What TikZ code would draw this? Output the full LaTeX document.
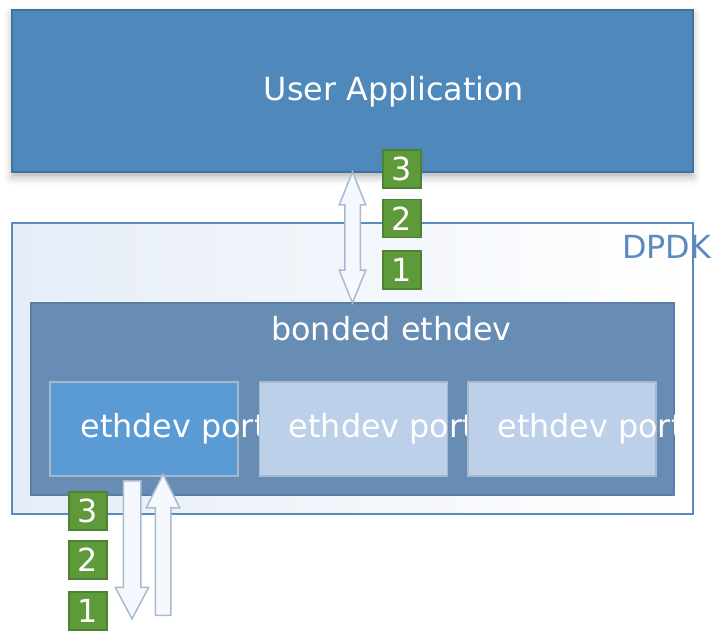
\documentclass[tikz,border=0pt]{standalone}
\usepackage{fontspec}
\setmainfont{DejaVu Sans}
\usetikzlibrary{positioning,calc,shapes.arrows,shadows.blur}
\definecolor{appblue}{HTML}{4F88BB}
\definecolor{appline}{HTML}{41719C}
\definecolor{dpdkline}{HTML}{5A8AC0}
\definecolor{dpdkfill}{HTML}{E6EDF7}
\definecolor{bondfill}{HTML}{678DB5}
\definecolor{bondline}{HTML}{5A7FA6}
\definecolor{portact}{HTML}{5B9BD5}
\definecolor{portfill}{HTML}{BDD0E9}
\definecolor{portline}{HTML}{A9B8CA}
\definecolor{arrowfill}{HTML}{F5F8FC}
\definecolor{arrowline}{HTML}{A9BAD3}
\definecolor{badgefill}{HTML}{5E9A3A}
\definecolor{badgeline}{HTML}{4E8233}
\begin{document}
\begin{tikzpicture}[x=1pt,y=-1pt]
\tikzstyle{txt}= [font=\fontsize{31.8}{38}\selectfont,inner sep=0pt]
\tikzstyle{box}= [rectangle,draw,line width=1.5pt]
\tikzstyle{port}= [box,portline,minimum width=188pt,minimum height=94pt]
\tikzstyle{badge}= [rectangle,draw=badgeline,fill=badgefill,line width=1.5pt,minimum size=38pt,inner sep=0pt,text=white,font=\fontsize{31.8}{38}\selectfont]
\tikzstyle{fat}= [draw=arrowline,fill=arrowfill,line width=1.5pt,inner xsep=0pt,minimum width=0pt]

\useasboundingbox (0,0) rectangle (713,634);

\path
	(352.5, 91) node[box,draw=appline,fill=appblue,minimum width=681pt,minimum height=162pt,blur shadow={shadow xshift=0pt,shadow yshift=-5pt,shadow blur radius=8pt,shadow opacity=30}] (ua) {}
	(352.5,368.5) node[box,draw=dpdkline,left color=dpdkfill,right color=white,minimum width=681pt,minimum height=291pt] (dpdk) {}
	(352.5,399) node[box,draw=bondline,fill=bondfill,minimum width=643pt,minimum height=192pt] (bond) {}
;
\node[txt,text=white,anchor=base] at (394,100) {User Application};
\node[txt,text=dpdkline,anchor=base west] at (622,258) {DPDK};
\node[txt,text=white,anchor=base] at (391.5,340) {bonded ethdev};

% member ports, each one covers the text of the one before
\node[port,fill=portact] (p1) at (144,429) {};
\node[txt,text=white,anchor=base west] at ([xshift=31pt]p1.west |- 0,437) {ethdev port};
\node[port,fill=portfill,right=20pt of p1] (p2) {};
\node[txt,text=white,anchor=base west] at ([xshift=30pt]p2.west |- 0,437) {ethdev port};
\node[port,fill=portfill,right=19pt of p2] (p3) {};
\node[txt,text=white,anchor=base west] at ([xshift=30pt]p3.west |- 0,437) {ethdev port};

% app <-> bonded device
\node[fat,double arrow,rotate=90,minimum height=131pt,inner ysep=7pt,double arrow head extend=5.5pt,double arrow tip angle=44] (link) at ($(ua.south)!0.5!(bond.north)$) {};

% rx and tx on the port
\node[fat,single arrow,rotate=-90,anchor=tail,minimum height=138pt,inner ysep=8pt,single arrow head extend=8pt,single arrow tip angle=56] (rx) at (132,480) {};
\node[fat,single arrow,rotate=90,anchor=tail,minimum height=141pt,inner ysep=7pt,single arrow head extend=9pt,single arrow tip angle=53] (tx) at (163,616) {};

\path
	(402,169)   node[badge] (a3) {3}
	(402,218.5) node[badge] (a2) {2}
	(402,270)   node[badge] (a1) {1}
	(88,511)    node[badge] (b3) {3}
	(88,560)    node[badge] (b2) {2}
	(88,611)    node[badge] (b1) {1}
;
\end{tikzpicture}
\end{document}
